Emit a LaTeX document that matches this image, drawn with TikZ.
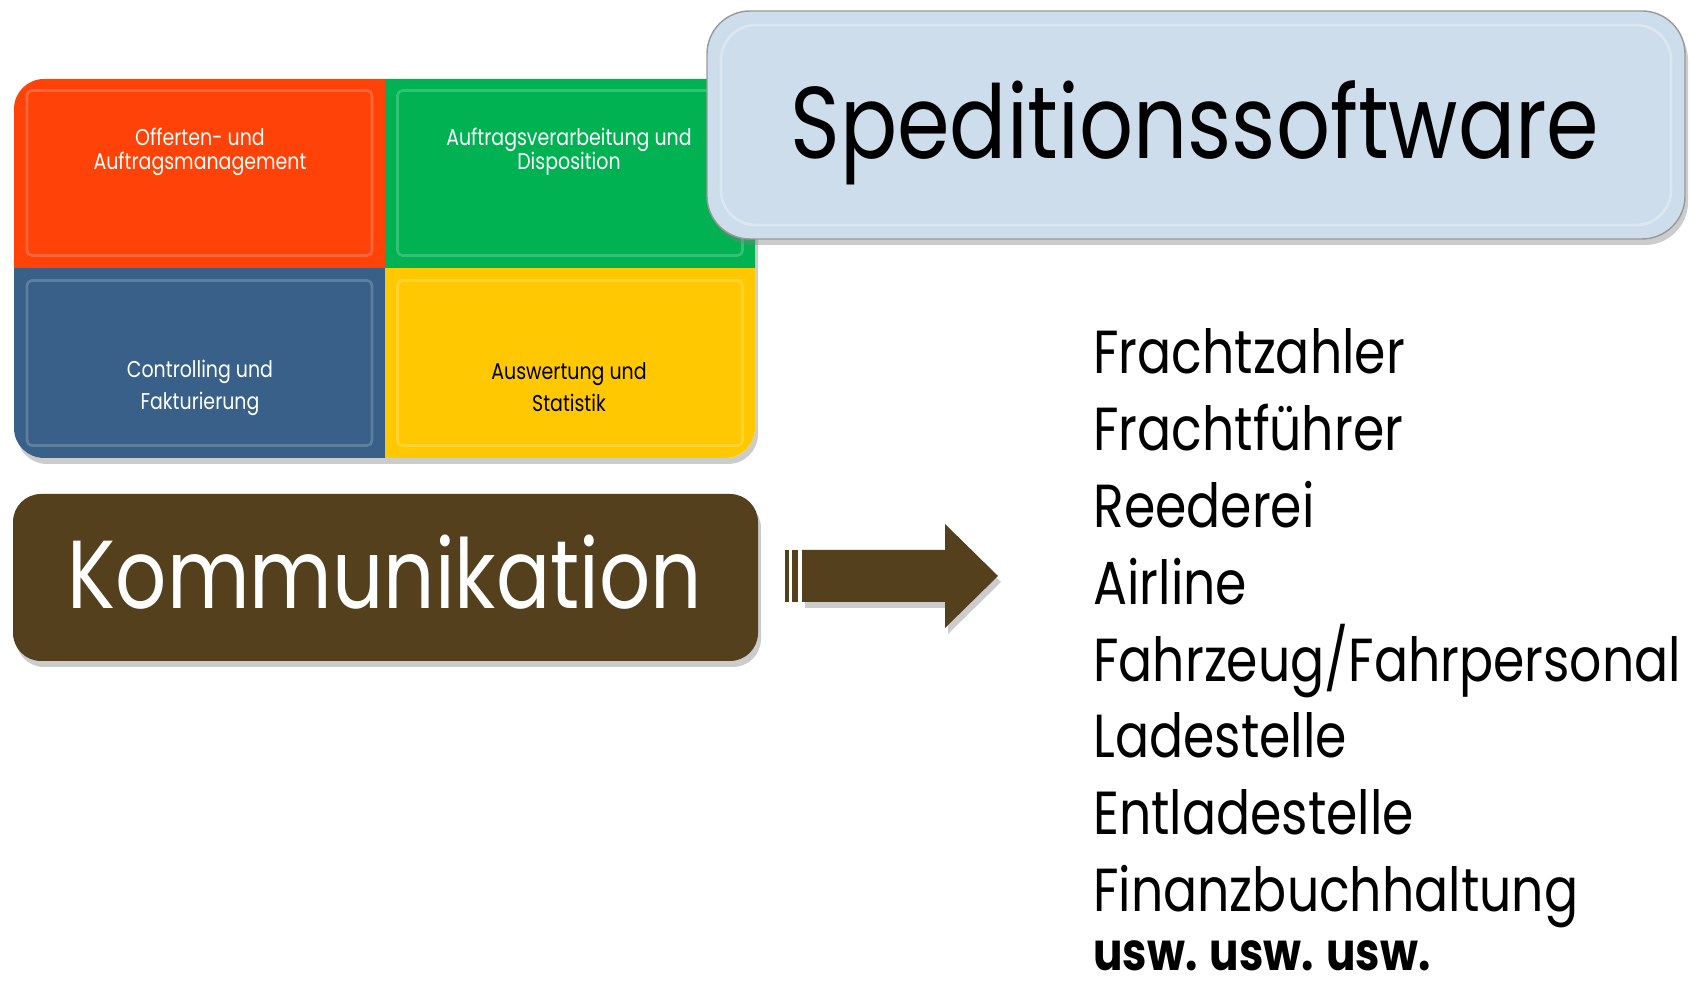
\documentclass[tikz,border=0pt]{standalone}
\usepackage{fontspec}
\setmainfont{Poppins}[FakeStretch=0.83]
\usetikzlibrary{shadows}

\definecolor{offred}{RGB}{254,66,8}
\definecolor{dispgreen}{RGB}{0,178,82}
\definecolor{ctrlblue}{RGB}{56,96,136}
\definecolor{statyellow}{RGB}{255,200,0}
\definecolor{spedblue}{RGB}{205,221,236}
\definecolor{kommbrown}{RGB}{85,64,30}

\tikzset{
	cell/.style={inner sep=0pt, minimum width=7.42cm, minimum height=3.80cm},
	bevel/.style={draw=white, draw opacity=0.2, line width=1.5pt, inner sep=0pt, rounded corners=0.1cm,
		minimum width=6.90cm, minimum height=3.30cm},
	celltext/.style={align=center, inner sep=0pt, font=\fontsize{13}{13.9}\selectfont},
	celltextlow/.style={celltext, font=\fontsize{13}{18.2}\selectfont},
	listitem/.style={anchor=base west, inner sep=0pt, font=\fontsize{34.6}{40}\selectfont},
	softshadow/.style={drop shadow={opacity=0.4, shadow xshift=0.06cm, shadow yshift=-0.12cm}}
}

\begin{document}
\begin{tikzpicture}
	\useasboundingbox (0,0) rectangle (33.82,19.78);
	%
	% block of four cells
	\fill[white, rounded corners=0.6cm, softshadow] (0.28,10.62) rectangle (15.10,18.20);
	\begin{scope}
		\clip[rounded corners=0.6cm] (0.28,10.62) rectangle (15.10,18.20);
		\node[cell, fill=offred]     (offerte)  at (3.99, 16.32) {};
		\node[cell, fill=dispgreen]  (dispo)    at (11.40,16.32) {};
		\node[cell, fill=ctrlblue]   (control)  at (3.99, 12.52) {};
		\node[cell, fill=statyellow] (statistik) at (11.40,12.52) {};
		\foreach \c in {offerte, dispo, control, statistik}
		{	\node[bevel] at (\c) {};
		}
	\end{scope}
	\node[celltext, text=white]    (offtext)  at (4.00, 16.74) {Offerten- und\\Auftragsmanagement};
	\node[celltext, text=white]    (disptext) at (11.38,16.74) {Auftragsverarbeitung und\\Disposition};
	\node[celltextlow, text=white] (ctrltext) at (4.00, 12.03) {Controlling und\\Fakturierung};
	\node[celltextlow, text=black] (stattext) at (11.38,12.03) {Auswertung und\\Statistik};
	%
	% title box
	\node[draw=gray!80, line width=0.8pt, fill=spedblue, rounded corners=0.86cm, softshadow,
		minimum width=19.56cm, minimum height=4.56cm] (sped) at (23.92,17.28) {};
	\node[draw=white, draw opacity=0.3, line width=1.5pt, rounded corners=0.7cm,
		minimum width=19.0cm, minimum height=4.0cm] (spedinner) at (sped) {};
	\node[anchor=base, inner sep=0pt, font=\fontsize{58}{60}\selectfont] (spedtext) at (23.90,16.60) {Speditionssoftware};
	%
	% communication box
	\node[fill=kommbrown, rounded corners=0.56cm, softshadow,
		minimum width=14.90cm, minimum height=3.34cm] (komm) at (7.71,8.23) {};
	\node[anchor=base, inner sep=0pt, text=white, font=\fontsize{55}{60}\selectfont] (kommtext) at (7.70,7.60) {Kommunikation};
	%
	% arrow
	\fill[kommbrown, softshadow] (16.04,8.78) -- (18.90,8.78) -- (18.90,9.30) -- (19.96,8.26)
		-- (18.90,7.22) -- (18.90,7.74) -- (16.04,7.74) -- cycle;
	\fill[kommbrown] (15.70,8.78) rectangle (15.78,7.74);
	\fill[kommbrown] (15.84,8.78) rectangle (15.96,7.74);
	%
	% partners
	\foreach \word [count=\i] in {Frachtzahler, Frachtführer, Reederei, Airline, {Fahrzeug/Fahrpersonal}, Ladestelle, Entladestelle, Finanzbuchhaltung}
	{	\node[listitem] (item\i) at (21.86, 12.30-1.536*\i+1.536) {\word};
	}
	\node[anchor=base west, inner sep=0pt, font=\fontsize{30}{34}\selectfont\bfseries] (usw) at (21.86,0.36) {usw. usw. usw.};
\end{tikzpicture}
\end{document}
